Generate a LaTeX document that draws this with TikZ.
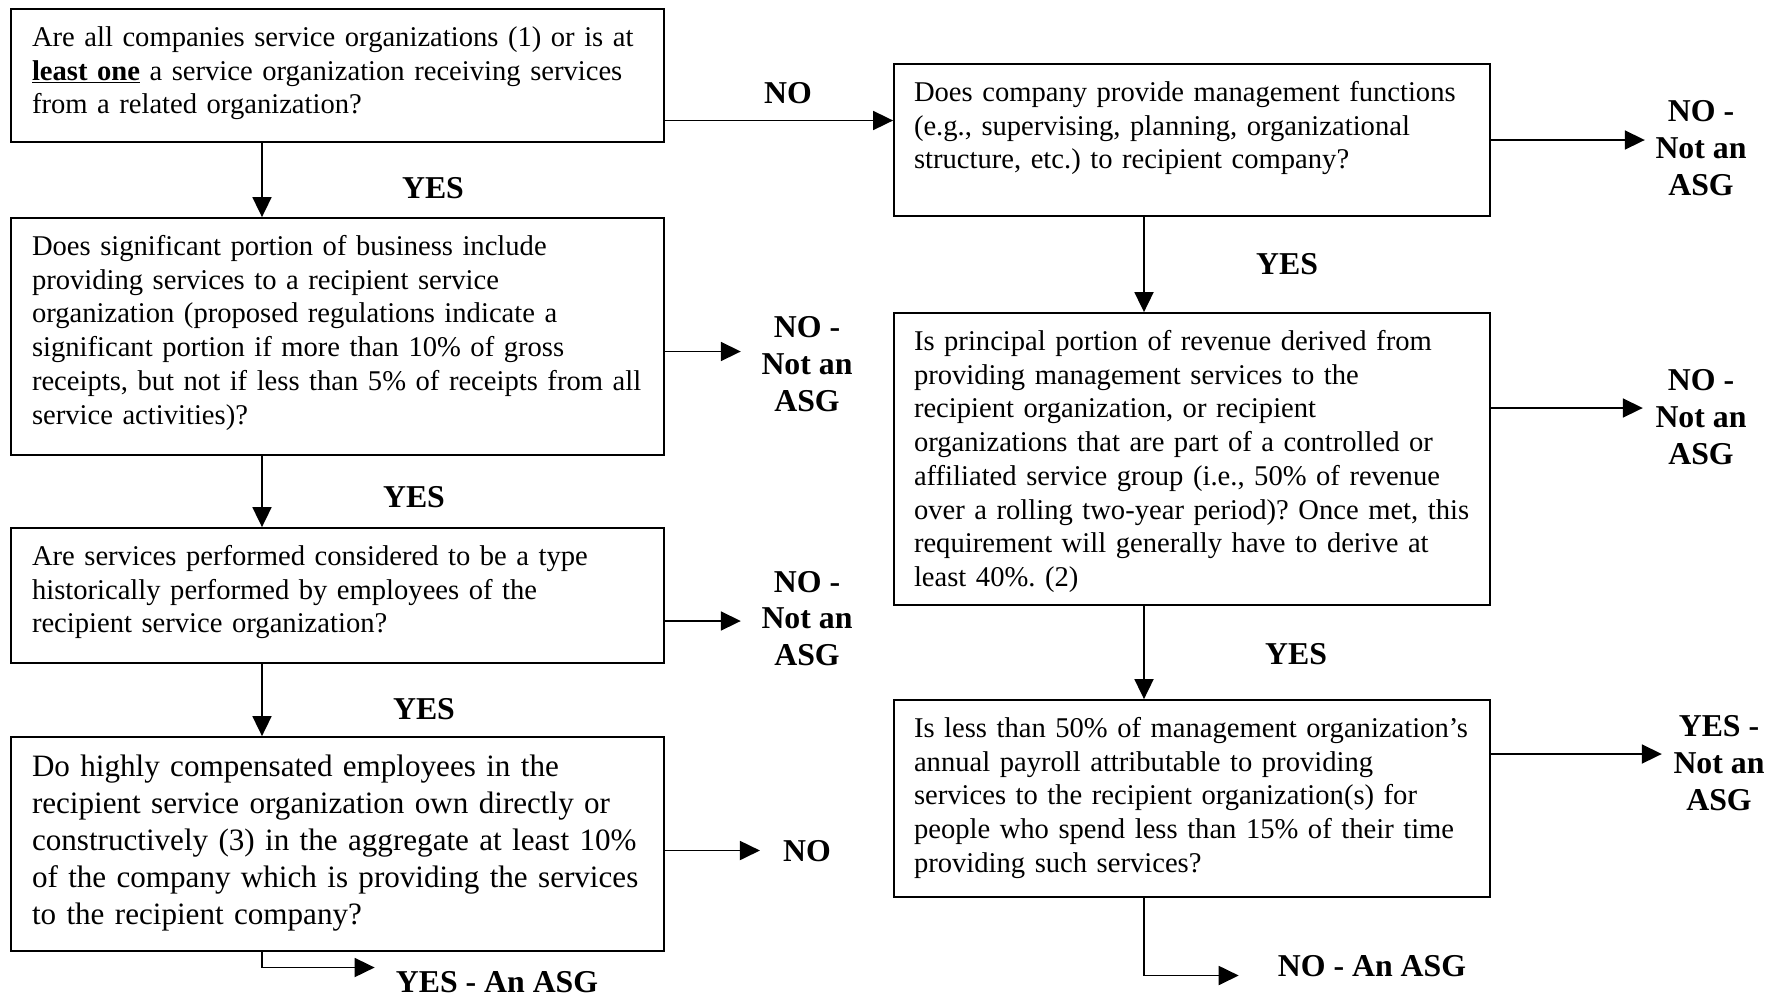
\documentclass[tikz,border=0pt]{standalone}
\usepackage{fontspec}
\setmainfont{Liberation Serif}
\usetikzlibrary{arrows.meta}
\frenchspacing

\begin{document}
\begin{tikzpicture}[x=1pt, y=-1pt,
    qbox/.style={draw, line width=1.8pt, align=left, inner xsep=21pt, inner ysep=0pt,
      text width=611pt, text height=37.5pt, font=\fontsize{28.6}{33.7}\selectfont},
    rbox/.style={qbox, inner xsep=20pt, text width=556pt},
    lbl/.style={font=\fontsize{31.8}{36.8}\selectfont\bfseries, align=center, inner sep=0pt},
    arr/.style={line width=1.8pt, -{Triangle[length=20pt, width=19pt]}}]
  \useasboundingbox (0,0) rectangle (1783,997);

  % left column
  \node[qbox, text depth=95.5pt] (qa) at (337.5,75.5)
    {Are all companies service organizations (1) or is at\\
     \underline{\textbf{least one}} a service organization receiving services\\
     from a related organization?};
  \node[qbox, text depth=199.5pt] (qb) at (337.5,336.5)
    {Does significant portion of business include\\
     providing services to a recipient service\\
     organization (proposed regulations indicate a\\
     significant portion if more than 10\% of gross\\
     receipts, but not if less than 5\% of receipts from all\\
     service activities)?};
  \node[qbox, text depth=97.5pt] (qc) at (337.5,595.5)
    {Are services performed considered to be a type\\
     historically performed by employees of the\\
     recipient service organization?};
  \node[qbox, text height=39pt, text depth=175pt,
    font=\fontsize{31.1}{37.2}\selectfont] (qd) at (337.5,844)
    {Do highly compensated employees in the\\
     recipient service organization own directly or\\
     constructively (3) in the aggregate at least 10\%\\
     of the company which is providing the services\\
     to the recipient company?};

  % right column
  \node[rbox, text depth=114.5pt] (qe) at (1192,140)
    {Does company provide management functions\\
     (e.g., supervising, planning, organizational\\
     structure, etc.) to recipient company?};
  \node[rbox, text depth=254.5pt] (qf) at (1192,459)
    {Is principal portion of revenue derived from\\
     providing management services to the\\
     recipient organization, or recipient\\
     organizations that are part of a controlled or\\
     affiliated service group (i.e., 50\% of revenue\\
     over a rolling two-year period)? Once met, this\\
     requirement will generally have to derive at\\
     least 40\%. (2)};
  \node[rbox, text depth=159.5pt] (qg) at (1192,798.5)
    {Is less than 50\% of management organization's\\
     annual payroll attributable to providing\\
     services to the recipient organization(s) for\\
     people who spend less than 15\% of their time\\
     providing such services?};

  % answers
  \node[lbl] (noa) at (788,93) {NO};
  \node[lbl] (yesa) at (433,188) {YES};
  \node[lbl] (nob) at (807,364) {NO -\\Not an\\ASG};
  \node[lbl] (yesb) at (414,497) {YES};
  \node[lbl] (noc) at (807,618.5) {NO -\\Not an\\ASG};
  \node[lbl] (yesc) at (424,709.5) {YES};
  \node[lbl] (nod) at (807,851.5) {NO};
  \node[lbl] (yesd) at (497,982) {YES - An ASG};
  \node[lbl] (noe) at (1701,148) {NO -\\Not an\\ASG};
  \node[lbl] (yese) at (1287,264) {YES};
  \node[lbl] (nof) at (1701,417) {NO -\\Not an\\ASG};
  \node[lbl] (yesf) at (1296,654) {YES};
  \node[lbl] (yesg) at (1719,763) {YES -\\Not an\\ASG};
  \node[lbl] (nog) at (1372,966.5) {NO - An ASG};

  % connectors
  \draw[arr] ([yshift=-45pt]qa.east) -- ([yshift=-45pt]qa.east -| qe.west);
  \draw[arr] ([xshift=-75.5pt]qa.south) -- ([xshift=-75.5pt]qa.south |- qb.north);
  \draw[arr, shorten >=20.5pt] ([yshift=-15pt]qb.east) -- ([yshift=-15pt]qb.east -| nob.west);
  \draw[arr] ([xshift=-75.5pt]qb.south) -- ([xshift=-75.5pt]qb.south |- qc.north);
  \draw[arr, shorten >=20.5pt] ([yshift=-25.5pt]qc.east) -- ([yshift=-25.5pt]qc.east -| noc.west);
  \draw[arr] ([xshift=-75.5pt]qc.south) -- ([xshift=-75.5pt]qc.south |- qd.north);
  \draw[arr, shorten >=23pt] ([yshift=-6.5pt]qd.east) -- ([yshift=-6.5pt]qd.east -| nod.west);
  \draw[arr, shorten >=21pt] ([xshift=-75.5pt]qd.south) |- ([yshift=14.5pt]yesd.west);

  \draw[arr, shorten >=10.5pt] (qe.east) -- (qe.east -| noe.west);
  \draw[arr] ([xshift=-48pt]qe.south) -- ([xshift=-48pt]qe.south |- qf.north);
  \draw[arr, shorten >=12.5pt] ([yshift=51pt]qf.east) -- ([yshift=51pt]qf.east -| nof.west);
  \draw[arr] ([xshift=-48pt]qf.south) -- ([xshift=-48pt]qf.south |- qg.north);
  \draw[arr, shorten >=11.5pt] ([yshift=44.5pt]qg.east) -- ([yshift=44.5pt]qg.east -| yesg.west);
  \draw[arr, shorten >=39pt] ([xshift=-48pt]qg.south) |- ([yshift=-9pt]nog.west);
\end{tikzpicture}
\end{document}
